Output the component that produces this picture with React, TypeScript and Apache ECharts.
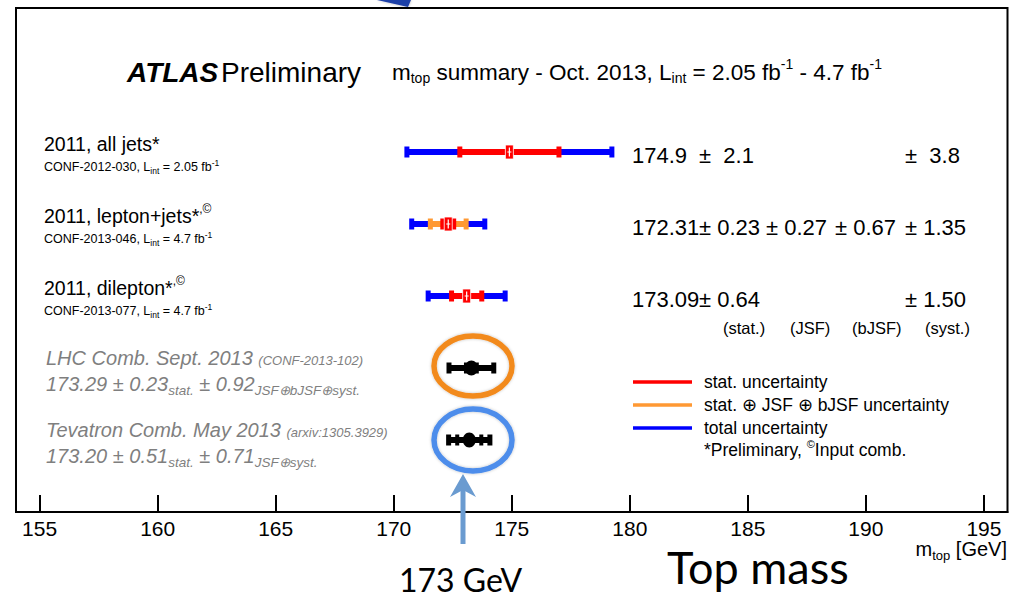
import React, { useEffect, useRef } from 'react';
import * as echarts from 'echarts';

const FONT = "'Liberation Sans', Arial, Helvetica, sans-serif";
const SLIDE_FONT = "Lato, 'Open Sans', sans-serif";

// ---------------- data ----------------
const categories = ['2011, all jets', '2011, lepton+jets', '2011, dilepton', 'LHC Comb. Sept. 2013', 'Tevatron Comb. May 2013'];
const rowPosition = [5, 4, 3, 2, 1];
const centralValue = [174.9, 172.31, 173.09, 173.29, 173.2];
const statErr = [2.1, 0.23, 0.64, 0.23, 0.51];
const jsfErr = [0, 0.27, 0, 0, 0];
const bjsfErr = [0, 0.67, 0, 0, 0];
const systErr = [3.8, 1.35, 1.5, 0.92, 0.71];
const isCombination = [0, 0, 0, 1, 1];
const decimals = [1, 2, 2, 2, 2];
const labelSup = ['', ',©', ',©'];
const confRefs = ['CONF-2012-030', 'CONF-2013-046', 'CONF-2013-077'];
const lumiText = ['2.05', '4.7', '4.7'];
const combRefs = ['(CONF-2013-102)', '(arxiv:1305.3929)'];
const combSystLabel = ['JSF⊕bJSF⊕syst.', 'JSF⊕syst.'];
const columnLabels = ['(stat.)', '(JSF)', '(bJSF)', '(syst.)'];
const legendItems = ['stat. uncertainty', 'stat. ⊕ JSF ⊕ bJSF uncertainty', 'total uncertainty'];
const xTickValues = [155, 160, 165, 170, 175, 180, 185, 190, 195];
const xMin = 154;
const xMax = 196;
const yMin = 0;
const yMax = 7;

const quad = (...v: number[]) => Math.sqrt(v.reduce((s, x) => s + x * x, 0));
const midErr = categories.map((_, i) => quad(statErr[i], jsfErr[i], bjsfErr[i]));
const totErr = categories.map((_, i) => quad(statErr[i], jsfErr[i], bjsfErr[i], systErr[i]));

const BLUE = '#0000FF';
const RED = '#FF0000';
const ORANGE = '#FF9933';
const BLACK = '#000000';
const GRAY = '#7F7F7F';

// grid geometry (pixels)
const G_LEFT = 16, G_RIGHT = 11.5, G_TOP = 8, G_BOTTOM = 85;
const PLOT_BOTTOM = 597 - G_BOTTOM;
const PLOT_H = 597 - G_TOP - G_BOTTOM;
const rowPx = (v: number) => PLOT_BOTTOM - ((v - yMin) / (yMax - yMin)) * PLOT_H;

// ---------------- helpers ----------------
const rs = (size: number, lh: number, color = BLACK, extra: any = {}) => ({
  fontSize: size, lineHeight: lh, fontFamily: FONT, fill: color, ...extra,
});
const sub = (size: number, h: number, color = BLACK, extra: any = {}) =>
  rs(size, h, color, { height: h, verticalAlign: 'bottom', ...extra });
const sup = (size: number, h: number, color = BLACK, extra: any = {}) =>
  rs(size, h, color, { height: h, verticalAlign: 'top', ...extra });

const txt = (x: number, y: number, text: string, rich: any, align = 'left') => ({
  type: 'text', x, y, silent: true, z: 10,
  style: {
    text, rich, align, textAlign: align, verticalAlign: 'middle', textVerticalAlign: 'middle',
    fontFamily: FONT, fontSize: 12, fill: BLACK,
  },
});

function renderItem(params: any, api: any) {
  const c = api.value(0);
  const yv = api.value(1);
  const stat = api.value(2);
  const mid = api.value(3);
  const tot = api.value(4);
  const comb = api.value(5);
  const px = (x: number) => api.coord([x, yv])[0];
  const py = api.coord([c, yv])[1];
  const children: any[] = [];
  const hbar = (a: number, b: number, h: number, color: string) =>
    children.push({ type: 'rect', shape: { x: px(a), y: py - h / 2, width: px(b) - px(a), height: h }, style: { fill: color } });
  const cap = (x: number, w: number, h: number, color: string) =>
    children.push({ type: 'rect', shape: { x: px(x) - w / 2, y: py - h / 2, width: w, height: h }, style: { fill: color } });

  if (!comb) {
    hbar(c - tot, c + tot, 6, BLUE);
    cap(c - tot, 5, 11, BLUE);
    cap(c + tot, 5, 11, BLUE);
    if (mid > stat + 1e-6) {
      hbar(c - mid, c + mid, 6, ORANGE);
      cap(c - mid, 5, 11, ORANGE);
      cap(c + mid, 5, 11, ORANGE);
    }
    hbar(c - stat, c + stat, 6, RED);
    cap(c - stat, 5, 11, RED);
    cap(c + stat, 5, 11, RED);
    const cx = px(c);
    children.push({ type: 'rect', shape: { x: cx - 4, y: py - 7, width: 8, height: 14 }, style: { fill: RED, stroke: '#fff', lineWidth: 0.8 } });
    children.push({ type: 'line', shape: { x1: cx, y1: py - 4.5, x2: cx, y2: py + 4.5 }, style: { stroke: '#fff', lineWidth: 1.2 } });
    children.push({ type: 'line', shape: { x1: cx - 2, y1: py, x2: cx + 2, y2: py }, style: { stroke: '#fff', lineWidth: 1 } });
  } else {
    hbar(c - tot, c + tot, 6, BLACK);
    cap(c - tot, 5, 11, BLACK);
    cap(c + tot, 5, 11, BLACK);
    cap(c - stat, 4, 11, BLACK);
    cap(c + stat, 4, 11, BLACK);
    children.push({ type: 'ellipse', shape: { cx: px(c), cy: py, rx: 6.5, ry: 7.5 }, style: { fill: BLACK } });
  }
  void params;
  return { type: 'group', children };
}

// ---------------- texts / annotations ----------------
function buildGraphics() {
  const g: any[] = [];
  // title
  g.push(txt(127, 72, '{a|ATLAS}', { a: rs(28, 32, BLACK, { fontWeight: 'bold', fontStyle: 'italic' }) }));
  g.push(txt(221, 72, '{a|Preliminary}', { a: rs(28, 32) }));
  g.push(txt(392, 72, '{b|m}{s|top}{b| summary - Oct. 2013, L}{s|int}{b| = 2.05 fb}{u|-1}{b| - 4.7 fb}{u|-1}', {
    b: rs(22.5, 26), s: sub(14, 14), u: sup(14, 10),
  }));

  // ATLAS measurement labels
  const labelRich = { b: rs(19.5, 24), u: sup(12, 10) };
  const confRich = { c: rs(12.5, 16), s: sub(8.5, 8), u: sup(8.5, 7) };
  for (let i = 0; i < 3; i++) {
    const y = rowPx(rowPosition[i]);
    g.push(txt(44, y - 8, `{b|${categories[i]}*}` + (labelSup[i] ? `{u|${labelSup[i]}}` : ''), labelRich));
    g.push(txt(44, y + 15, `{c|${confRefs[i]}, L}{s|int}{c| = ${lumiText[i]} fb}{u|-1}`, confRich));
  }
  // combinations (grey)
  const grayRich = {
    g: rs(20, 24, GRAY, { fontStyle: 'italic' }),
    n: sub(13, 19, GRAY, { fontStyle: 'italic' }),
    s: sub(13.5, 12, GRAY, { fontStyle: 'italic' }),
  };
  for (let k = 0; k < 2; k++) {
    const i = 3 + k;
    const y = rowPx(rowPosition[i]);
    g.push(txt(46, y - 10, `{g|${categories[i]} }{n|${combRefs[k]}}`, grayRich));
    g.push(txt(46, y + 16,
      `{g|${centralValue[i].toFixed(2)} ± ${statErr[i].toFixed(2)}}{s|stat.}{g| ± ${systErr[i].toFixed(2)}}{s|${combSystLabel[k]}}`,
      grayRich));
  }

  // result numbers (right side)
  const numRich = { n: rs(22, 26) };
  const xCentral = 632;
  const pmX = [699, 766, 835, 905];
  for (let i = 0; i < 3; i++) {
    const y = rowPx(rowPosition[i]) + 3.5;
    const d = decimals[i];
    g.push(txt(xCentral, y, `{n|${centralValue[i].toFixed(d)}}`, numRich));
    const errs = [statErr[i], jsfErr[i], bjsfErr[i], systErr[i]];
    errs.forEach((e, j) => {
      if (!e) return;
      const sep = d === 1 ? '  ' : ' ';
      g.push(txt(pmX[j], y, `{n|±${sep}${e.toFixed(d)}}`, numRich));
    });
  }
  const colX = [723, 790, 852, 925];
  columnLabels.forEach((t, j) => g.push(txt(colX[j], rowPx(rowPosition[2]) + 32, `{c|${t}}`, { c: rs(16.5, 20) })));

  // legend
  const legColors = [RED, ORANGE, BLUE];
  const legY = [382, 405, 428];
  legendItems.forEach((t, j) => {
    g.push({ type: 'line', z: 10, shape: { x1: 633, y1: legY[j], x2: 692, y2: legY[j] }, style: { stroke: legColors[j], lineWidth: 3.5 } });
    g.push(txt(704, legY[j], `{l|${t}}`, { l: rs(17.5, 22) }));
  });
  g.push(txt(704, 450, '{l|*Preliminary, }{u|©}{l|Input comb.}', { l: rs(17.5, 22), u: sup(11, 10) }));

  // axis title
  g.push(txt(1007, 549, '{a|m}{s|top}{a| [GeV]}', { a: rs(20, 24), s: sub(13, 12) }, 'right'));

  // slide annotations
  g.push({ type: 'ellipse', z: 3, shape: { cx: 473, cy: 366, rx: 39, ry: 30 },
    style: { fill: 'none', stroke: '#F28A1E', lineWidth: 5.5, shadowBlur: 3, shadowColor: 'rgba(0,0,0,0.25)' } });
  g.push({ type: 'ellipse', z: 3, shape: { cx: 473, cy: 440, rx: 39, ry: 31 },
    style: { fill: 'none', stroke: '#4D8DEB', lineWidth: 5.5, shadowBlur: 3, shadowColor: 'rgba(0,0,0,0.25)' } });
  g.push({ type: 'rect', z: 3, shape: { x: 460.5, y: 487, width: 5, height: 57 }, style: { fill: '#6A9BD0' } });
  g.push({ type: 'polygon', z: 3, shape: { points: [[463, 474], [476, 497], [463, 490], [450, 497]] }, style: { fill: '#6A9BD0' } });
  g.push({ type: 'polygon', z: 3, shape: { points: [[377, 0], [411, 0], [408, 7]] },
    style: { fill: '#1E3FA8', shadowBlur: 3, shadowColor: 'rgba(0,0,0,0.3)' } });
  g.push({ type: 'text', z: 10, x: 399, y: 579, style: { text: '173 GeV', fontFamily: SLIDE_FONT, fontSize: 32, fill: '#000', align: 'left', textAlign: 'left', verticalAlign: 'middle', textVerticalAlign: 'middle' } });
  g.push({ type: 'text', z: 10, x: 667, y: 567, style: { text: 'Top mass', fontFamily: SLIDE_FONT, fontSize: 45, fill: '#000', align: 'left', textAlign: 'left', verticalAlign: 'middle', textVerticalAlign: 'middle' } });
  return g;
}

export default function App() {
  const ref = useRef<HTMLDivElement>(null);
  useEffect(() => {
    const chart = echarts.init(ref.current as HTMLDivElement, null, { renderer: 'svg' });
    const data = categories.map((name, i) => ({
      name,
      value: [centralValue[i], rowPosition[i], statErr[i], midErr[i], totErr[i], isCombination[i]],
    }));
    const option: any = {
      animation: false,
      backgroundColor: '#ffffff',
      grid: {
        left: G_LEFT, right: G_RIGHT, top: G_TOP, bottom: G_BOTTOM,
        show: true, borderColor: '#000', borderWidth: 2, backgroundColor: 'transparent',
        containLabel: false, outerBoundsMode: 'none',
      },
      xAxis: {
        type: 'value', min: xMin, max: xMax,
        axisLine: { show: true, onZero: false, lineStyle: { color: '#000', width: 2 } },
        axisTick: { show: true, inside: true, length: 17, lineStyle: { color: '#000', width: 2 }, customValues: xTickValues },
        axisLabel: { show: true, customValues: xTickValues, color: '#000', fontSize: 21, fontFamily: FONT, margin: 6 },
        splitLine: { show: false },
        minorTick: { show: false },
      },
      yAxis: { type: 'value', min: yMin, max: yMax, show: false, splitLine: { show: false } },
      series: [{
        type: 'custom', renderItem, data, encode: { x: 0, y: 1 }, clip: false, z: 5, silent: true,
      }],
      graphic: { elements: buildGraphics() },
    };
    chart.setOption(option);
    return () => chart.dispose();
  }, []);
  return <div ref={ref} style={{ position: 'fixed', left: 0, top: 0, width: 1019, height: 597, background: '#fff' }} />;
}
